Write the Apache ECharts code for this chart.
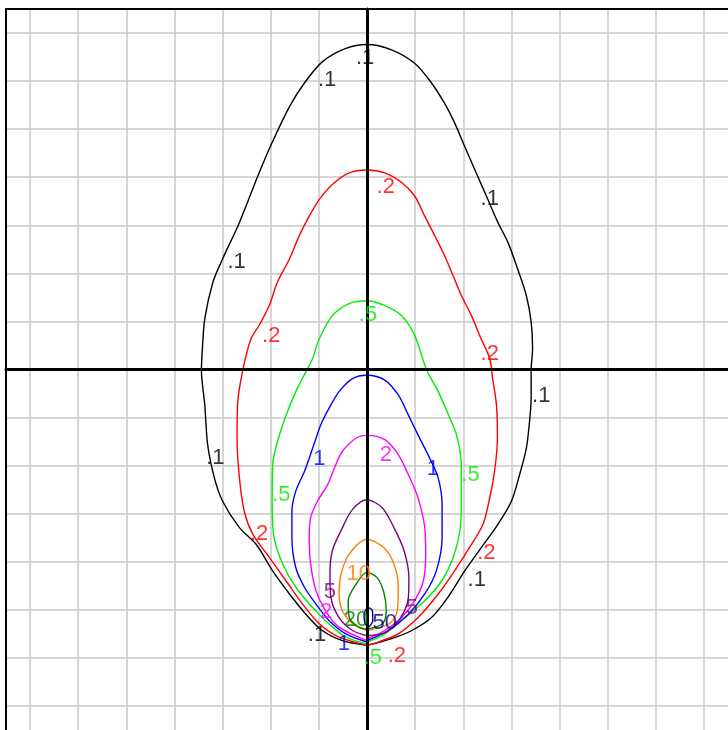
<!DOCTYPE html>
<html>
<head>
<meta charset="utf-8">
<script src="https://cdn.jsdelivr.net/npm/echarts@6/dist/echarts.min.js"></script>
<style>
html,body{margin:0;padding:0;background:#fff;}
#c{width:728px;height:730px;}
</style>
</head>
<body>
<div id="c"></div>
<script>
// Contour levels and their colours
const levels = ['.1', '.2', '.5', '1', '2', '5', '10', '20', '50'];
const levelColors = ['#000000', '#ff0000', '#00ee00', '#0000ff', '#ff00ff', '#800080', '#ff8000', '#008000', '#000080'];

// Axis extent (grid units)
const axisMin = -7.5;
const axisMax = 7.5;

// Contour paths [x, y]
const contour01 = [[0,-5.74],[-0.51,-5.64],[-0.93,-5.43],[-1.27,-5.09],[-1.61,-4.67],[-1.96,-4.19],[-2.30,-3.64],[-2.65,-3.29],[-3.00,-2.74],[-3.17,-2.26],[-3.31,-1.57],[-3.37,-0.74],[-3.44,-0.01],[-3.42,0.43],[-3.37,1.06],[-3.20,1.82],[-3.00,2.30],[-2.65,3.06],[-2.27,4.02],[-1.99,4.68],[-1.61,5.47],[-1.30,5.96],[-0.93,6.40],[-0.44,6.68],[0,6.76],[0.51,6.65],[0.99,6.37],[1.34,5.96],[1.61,5.54],[1.82,5.13],[2.03,4.64],[2.27,4.09],[2.51,3.54],[2.72,3.06],[2.93,2.64],[3.13,2.09],[3.31,1.54],[3.41,0.99],[3.44,0.43],[3.41,-0.01],[3.41,-0.60],[3.37,-1.15],[3.31,-1.64],[3.17,-2.19],[3.00,-2.74],[2.72,-3.22],[2.37,-3.71],[2.03,-4.19],[1.68,-4.74],[1.34,-5.16],[0.93,-5.43],[0.51,-5.60],[0,-5.74]];
const contour02 = [[0,-5.74],[-0.58,-5.57],[-0.99,-5.29],[-1.34,-4.88],[-1.68,-4.40],[-2.03,-3.91],[-2.37,-3.43],[-2.55,-2.95],[-2.65,-2.26],[-2.70,-1.43],[-2.69,-0.74],[-2.58,-0.01],[-2.41,0.64],[-2.24,0.92],[-2.03,1.33],[-1.86,1.82],[-1.61,2.30],[-1.41,2.78],[-1.20,3.19],[-0.99,3.54],[-0.72,3.85],[-0.37,4.09],[0,4.15],[0.37,4.09],[0.72,3.89],[0.99,3.61],[1.20,3.19],[1.41,2.78],[1.61,2.37],[1.79,1.95],[1.96,1.54],[2.17,1.12],[2.37,0.64],[2.55,0.23],[2.61,-0.19],[2.69,-0.74],[2.71,-1.43],[2.65,-2.12],[2.55,-2.67],[2.41,-3.22],[2.17,-3.64],[1.82,-4.19],[1.48,-4.67],[1.06,-5.16],[0.65,-5.50],[0.23,-5.67],[0,-5.74]];
const contour05 = [[0,-5.71],[-0.44,-5.57],[-0.79,-5.29],[-1.13,-4.95],[-1.48,-4.53],[-1.75,-4.05],[-1.93,-3.50],[-1.97,-2.81],[-1.96,-1.98],[-1.86,-1.50],[-1.68,-0.95],[-1.48,-0.46],[-1.27,-0.05],[-1.13,0.23],[-0.99,0.64],[-0.72,1.12],[-0.37,1.37],[0,1.43],[0.37,1.33],[0.72,1.12],[0.99,0.71],[1.24,-0.01],[1.48,-0.46],[1.72,-1.01],[1.86,-1.36],[1.96,-1.98],[1.96,-2.81],[1.93,-3.36],[1.79,-3.91],[1.55,-4.40],[1.20,-4.81],[0.79,-5.16],[0.37,-5.50],[0,-5.67]];
const contour1 = [[0,-5.67],[-0.44,-5.50],[-0.79,-5.22],[-1.06,-4.88],[-1.30,-4.53],[-1.48,-4.12],[-1.56,-3.50],[-1.56,-2.95],[-1.48,-2.53],[-1.30,-2.12],[-1.13,-1.64],[-0.96,-1.15],[-0.79,-0.81],[-0.58,-0.46],[-0.30,-0.19],[0,-0.12],[0.37,-0.22],[0.65,-0.53],[0.86,-0.95],[1.06,-1.36],[1.30,-1.84],[1.48,-2.26],[1.56,-2.81],[1.56,-3.50],[1.44,-4.19],[1.20,-4.67],[0.86,-5.09],[0.44,-5.43],[0,-5.64]];
const contour2 = [[0,-5.64],[-0.58,-5.36],[-0.86,-5.02],[-1.06,-4.60],[-1.17,-4.05],[-1.20,-3.50],[-1.17,-3.08],[-1.03,-2.74],[-0.82,-2.40],[-0.65,-1.98],[-0.51,-1.70],[-0.23,-1.43],[0,-1.37],[0.37,-1.46],[0.65,-1.77],[0.86,-2.19],[1.06,-2.67],[1.20,-3.29],[1.22,-3.84],[1.17,-4.40],[0.99,-4.81],[0.72,-5.16],[0.37,-5.43],[0,-5.61]];
const contour5 = [[0,-5.54],[-0.30,-5.43],[-0.58,-5.16],[-0.75,-4.74],[-0.77,-4.26],[-0.72,-3.77],[-0.51,-3.29],[-0.30,-2.91],[0,-2.71],[0.32,-2.88],[0.56,-3.29],[0.77,-3.77],[0.87,-4.33],[0.86,-4.74],[0.70,-5.16],[0.39,-5.47],[0,-5.54]];
const contour10 = [[0,-5.43],[-0.30,-5.29],[-0.51,-5.02],[-0.58,-4.67],[-0.54,-4.26],[-0.37,-3.84],[0,-3.53],[0.35,-3.71],[0.56,-4.05],[0.65,-4.53],[0.63,-5.02],[0.46,-5.29],[0,-5.43]];
const contour20 = [[0,-5.40],[-0.17,-5.36],[-0.37,-5.16],[-0.39,-4.81],[-0.23,-4.47],[0,-4.22],[0.21,-4.33],[0.35,-4.64],[0.40,-5.02],[0.32,-5.29],[0,-5.40]];
const contour50 = [[0.01,-4.95],[-0.06,-5.09],[-0.04,-5.29],[0.03,-5.35],[0.12,-5.22],[0.11,-5.01],[0.01,-4.95]];

// Label anchor positions per level [x, y]
const labels01 = [[-0.04,6.48],[-0.83,6.02],[2.55,3.54],[-2.71,2.24],[3.62,-0.54],[-3.15,-1.84],[2.28,-4.37],[-1.04,-5.53]];
const labels02 = [[0.39,3.79],[-1.99,0.70],[2.55,0.33],[-2.24,-3.42],[2.48,-3.81],[0.62,-5.96]];
const labels05 = [[0.02,1.14],[-1.78,-2.61],[2.15,-2.19],[0.12,-6.00]];
const labels1 = [[-0.99,-1.86],[1.37,-2.07],[-0.48,-5.71]];
const labels2 = [[0.39,-1.78],[-0.85,-5.05]];
const labels5 = [[-0.77,-4.62],[0.93,-4.97]];
const labels10 = [[-0.17,-4.26]];
const labels20 = [[-0.23,-5.20]];
const labels50 = [[0.37,-5.28]];

const contours = [contour01, contour02, contour05, contour1, contour2, contour5, contour10, contour20, contour50];
const labelSets = [labels01, labels02, labels05, labels1, labels2, labels5, labels10, labels20, labels50];

const chart = echarts.init(document.getElementById('c'), null, {renderer: 'canvas'});

const series = [];
contours.forEach((pts, i) => {
  series.push({
    type: 'line',
    name: levels[i],
    data: pts,
    xAxisIndex: 0, yAxisIndex: 0,
    showSymbol: false,
    symbol: 'none',
    smooth: 0.3,
    lineStyle: {color: levelColors[i], width: 1.4},
    z: 3,
    silent: true
  });
});
labelSets.forEach((pts, i) => {
  series.push({
    type: 'scatter',
    data: pts.map(p => ({value: p, name: levels[i]})),
    xAxisIndex: 0, yAxisIndex: 0,
    symbolSize: 0,
    label: {
      show: true,
      position: 'inside',
      formatter: levels[i],
      color: levelColors[i],
      fontFamily: '"Liberation Sans", Arial, sans-serif',
      fontSize: 22
    },
    z: 20,
    silent: true
  });
});

const gridLine = {show: true, showMinLine: false, showMaxLine: false, lineStyle: {color: '#c8c8c8', width: 1.5}};
const hidden = {show: false};
const border = {show: true, onZero: false, lineStyle: {color: '#000', width: 2}};

chart.setOption({
  animation: false,
  backgroundColor: '#ffffff',
  grid: {left: 6, top: 9, width: 724, height: 724, show: false},
  xAxis: [
    {type: 'value', min: axisMin, max: axisMax, splitNumber: 15, axisLine: hidden, axisTick: hidden, axisLabel: hidden, splitLine: gridLine, z: 0},
    {type: 'value', min: axisMin, max: axisMax, position: 'bottom', axisLine: {show: true, onZero: true, onZeroAxisIndex: 1, lineStyle: {color: '#000', width: 3}}, axisTick: hidden, axisLabel: hidden, splitLine: hidden, z: 10},
    {type: 'value', min: axisMin, max: axisMax, position: 'top', axisLine: border, axisTick: hidden, axisLabel: hidden, splitLine: hidden, z: 10}
  ],
  yAxis: [
    {type: 'value', min: axisMin, max: axisMax, splitNumber: 15, axisLine: hidden, axisTick: hidden, axisLabel: hidden, splitLine: gridLine, z: 0},
    {type: 'value', min: axisMin, max: axisMax, position: 'left', axisLine: {show: true, onZero: true, onZeroAxisIndex: 1, lineStyle: {color: '#000', width: 3}}, axisTick: hidden, axisLabel: hidden, splitLine: hidden, z: 10},
    {type: 'value', min: axisMin, max: axisMax, position: 'left', axisLine: border, axisTick: hidden, axisLabel: hidden, splitLine: hidden, z: 10}
  ],
  series: series
});
</script>
</body>
</html>
